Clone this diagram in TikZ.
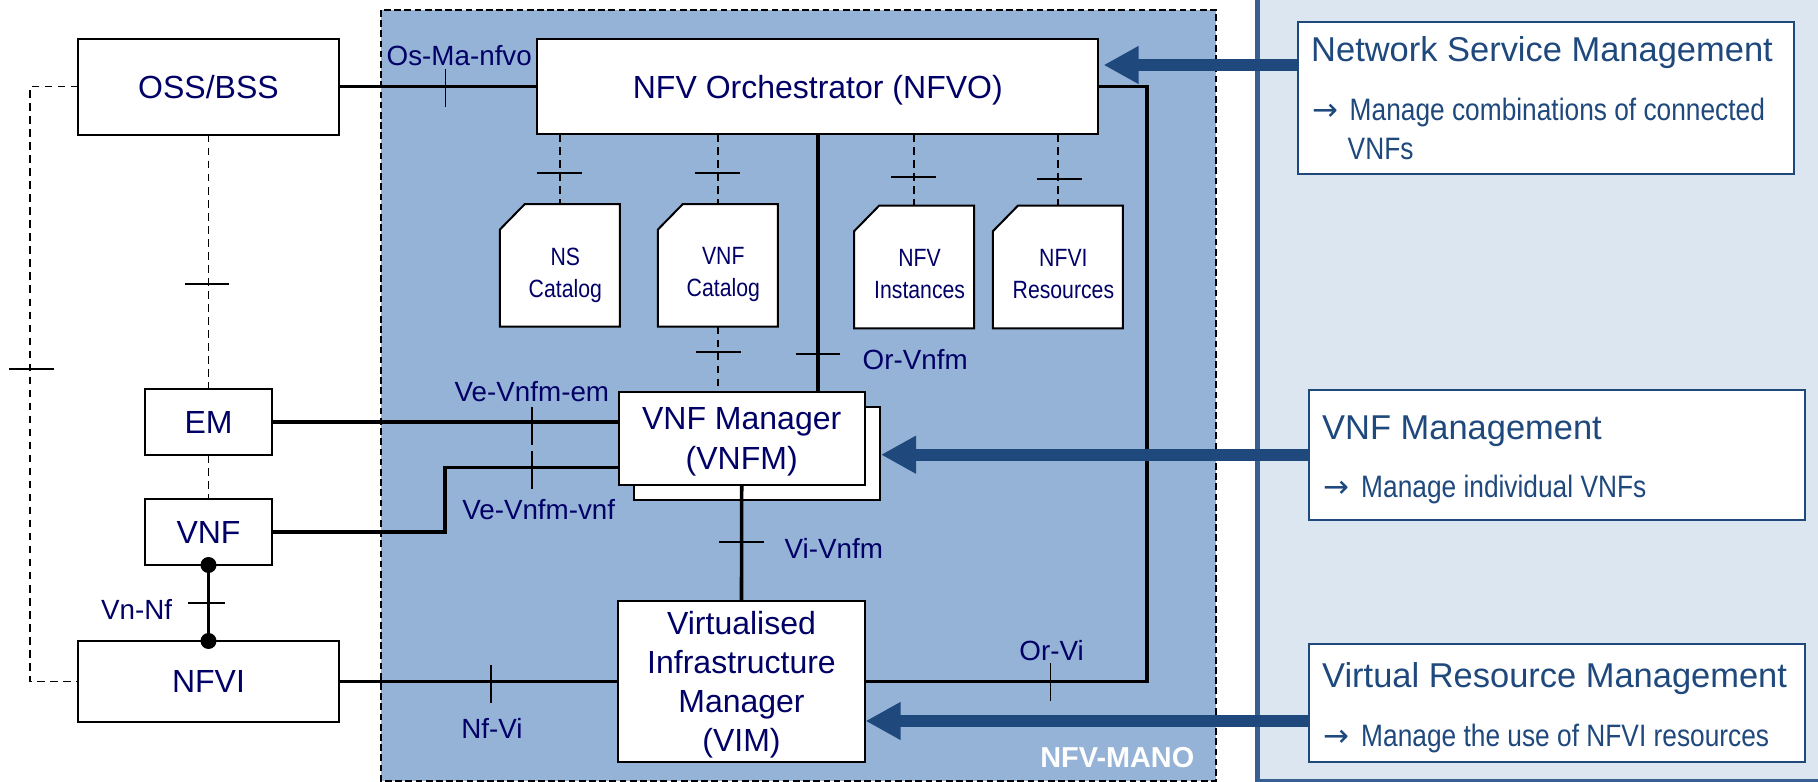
\documentclass[tikz,border=0pt]{standalone}
\usepackage{fontspec}
\setmainfont{Liberation Sans}
\newfontfamily\narrowfont[FakeStretch=0.85]{Liberation Sans}
\newfontfamily\arrowfont{DejaVu Sans}
\usetikzlibrary{arrows.meta}
\definecolor{manoblue}{HTML}{95B3D7}
\definecolor{panelblue}{HTML}{DCE6F1}
\definecolor{edgeblue}{HTML}{376092}
\definecolor{darkblue}{HTML}{1F497D}
\definecolor{navytext}{HTML}{000066}

\begin{document}
\begin{tikzpicture}[x=0.01cm,y=-0.01cm,
    box/.style={draw=black,line width=0.02cm,fill=white,text=navytext,align=center,inner sep=0pt,outer sep=0pt,
      text depth=0pt,font=\fontsize{9.1}{11.1}\selectfont},
    catalog/.style={inner sep=0pt,outer sep=0pt,minimum width=1.2cm,minimum height=1.225cm},
    catedge/.style={draw=black,line width=0.02cm,fill=white},
    cattext/.style={text=navytext,align=center,inner sep=0pt,xshift=0.055cm,yshift=-0.07cm,
      text depth=0pt,font=\narrowfont\fontsize{7.1}{9.1}\selectfont},
    mgmtbox/.style={draw=darkblue,line width=0.02cm,fill=white,inner sep=0pt,outer sep=0pt},
    mgmttitle/.style={anchor=base west,text=darkblue,inner sep=0pt,font=\fontsize{9.8}{11}\selectfont},
    mgmttext/.style={anchor=base west,text=darkblue,align=left,inner sep=0pt,font=\narrowfont\fontsize{8.8}{11}\selectfont},
    iflabel/.style={anchor=base west,text=navytext,inner sep=0pt,font=\fontsize{7.9}{9}\selectfont},
    refpoint/.style={line width=0.036cm},
    dashref/.style={line width=0.014cm,dash pattern=on 2.2pt off 1.5pt},
    tick/.style={line width=0.018cm},
    blockarrow/.style={darkblue,line width=0.12cm,-{Triangle[length=0.35cm,width=0.355cm]}}
  ]
  \useasboundingbox (0,0) rectangle (1818,782);

  % helpers
  \def\tickv#1#2{\draw[tick] (#1,#2) ++(0,-18.8) -- ++(0,37.6);}
  \def\tickh#1#2{\draw[tick] (#1,#2) ++(-22.4,0) -- ++(44.8,0);}
  \def\catshape#1{\draw[catedge] (#1.north west) ++(25,0) -- (#1.north east) -- (#1.south east)
    -- (#1.south west) -- ++(0,-97) -- cycle;}
  \def\arrowmark{\makebox[0.375cm][l]{\arrowfont →}}

  % backgrounds
  \draw[black,fill=manoblue,line width=0.014cm,dash pattern=on 1.9pt off 1pt] (381,10) rectangle (1216,781);
  \fill[panelblue] (1257,-5) rectangle (1825,781);
  \draw[edgeblue,line width=0.05cm] (1257,-5) -- (1257,781) -- (1825,781);
  \node[iflabel,text=white,font=\bfseries\fontsize{8.2}{9}\selectfont] (manolabel) at (1039.7,767) {NFV-MANO};

  % left column
  \node[box,minimum width=2.6cm,minimum height=0.96cm] (oss) at (208.5,86.7) {OSS/BSS};
  \node[box,minimum width=1.265cm,minimum height=0.66cm] (em) at (208.5,422) {EM};
  \node[box,minimum width=1.265cm,minimum height=0.66cm] (vnf) at (208.5,532) {VNF};
  \node[box,minimum width=2.6cm,minimum height=0.81cm] (nfvi) at (208.5,681.5) {NFVI};

  % MANO blocks
  \node[box,minimum width=5.605cm,minimum height=0.95cm] (nfvo) at (817.8,86.7) {NFV Orchestrator (NFVO)};
  \node[box,minimum width=2.46cm,minimum height=0.93cm] (vnfmback) at (757.2,453.5) {};
  \node[box,minimum width=2.46cm,minimum height=0.93cm] (vnfm) at (741.7,438.5) {VNF Manager\\(VNFM)};
  \node[box,minimum width=2.465cm,minimum height=1.61cm] (vim) at (741.5,681.5) {Virtualised\\Infrastructure\\Manager\\(VIM)};

  % catalogs
  \node[catalog] (nscat) at (559.8,265.4) {};
  \node[catalog] (vnfcat) at (717.8,265.4) {};
  \node[catalog] (nfvinst) at (914.1,267) {};
  \node[catalog,minimum width=1.3cm] (nfvires) at (1057.9,267) {};
  \catshape{nscat}
  \catshape{vnfcat}
  \catshape{nfvinst}
  \catshape{nfvires}
  \node[cattext] (nstext) at (nscat.center) {NS\\Catalog};
  \node[cattext] (vnftext) at (vnfcat.center) {VNF\\Catalog};
  \node[cattext] (insttext) at (nfvinst.center) {NFV\\Instances};
  \node[cattext] (restext) at (nfvires.center) {NFVI\\Resources};

  % management boxes
  \node[mgmtbox,minimum width=4.96cm,minimum height=1.517cm] (nsmgmt) at (1545.8,97.8) {};
  \node[mgmtbox,minimum width=4.955cm,minimum height=1.303cm] (vnfmgmt) at (1557,455.2) {};
  \node[mgmtbox,minimum width=4.955cm,minimum height=1.177cm] (vrmgmt) at (1557,703.2) {};
  \node[mgmttitle] (nstitle) at (1310.5,62) {Network Service Management};
  \node[mgmttext] (nsbody) at (1311.5,159.3) {\arrowmark Manage combinations of connected\\\hspace*{0.355cm}VNFs};
  \node[mgmttitle] (vnftitle) at (1321.5,439) {VNF Management};
  \node[mgmttext] (vnfbody) at (1323,497.3) {\arrowmark Manage individual VNFs};
  \node[mgmttitle] (vrtitle) at (1321.5,687.3) {Virtual Resource Management};
  \node[mgmttext] (vrbody) at (1323,746) {\arrowmark Manage the use of NFVI resources};

  % solid reference points
  \coordinate (vnfbend) at (445,467.3);
  \coordinate (orvibend) at (1147,0);
  \draw[refpoint] (oss.east) -- (nfvo.west);
  \draw[refpoint] (em.east) -- (em.east -| vnfm.west);
  \draw[refpoint] (vnf.east) -| (vnfbend) -- (vnfbend -| vnfm.west);
  \draw[refpoint] (nfvi.east) -- (vim.west);
  \draw[refpoint] (vnf.south) -- (nfvi.north);
  \draw[refpoint] (nfvo.south) -- (nfvo.south |- vnfm.north);
  \draw[refpoint] (vnfm.south) -- (vim.north);
  \draw[refpoint] (nfvo.east) -- (nfvo.east -| orvibend) -- (vim.east -| orvibend) -- (vim.east);
  \fill (vnf.south) circle (0.08cm);
  \fill (nfvi.north) circle (0.08cm);

  % dashed reference points
  \coordinate (ossbend) at (30,0);
  \draw[dashref] (oss.west) -- (oss.west -| ossbend) -- (nfvi.west -| ossbend) -- (nfvi.west);
  \draw[dashref] (oss.south) -- (em.north);
  \draw[dashref] (em.south) -- (vnf.north);
  \draw[dashref] (nscat.north |- nfvo.south) -- (nscat.north);
  \draw[dashref] (vnfcat.north |- nfvo.south) -- (vnfcat.north);
  \draw[dashref] (nfvinst.north |- nfvo.south) -- (nfvinst.north);
  \draw[dashref] (nfvires.north |- nfvo.south) -- (nfvires.north);
  \draw[dashref] (vnfcat.south) -- (vnfcat.south |- vnfm.north);

  % ticks
  \tickv{445.5}{87.9}
  \tickv{532}{425.7}
  \tickv{532}{470.2}
  \tickv{490.6}{683.9}
  \tickv{1050.4}{681.9}
  \tickh{31.3}{368.7}
  \tickh{207}{284.3}
  \tickh{559.8}{173.3}
  \tickh{717.4}{173.3}
  \tickh{913.8}{177}
  \tickh{1059.8}{178.7}
  \tickh{718.3}{351.7}
  \tickh{817.9}{353.7}
  \tickh{741.2}{542.3}
  \draw[tick] (206.5,603.3) ++(-18.6,0) -- ++(37.2,0);

  % interface names
  \node[iflabel] (osma) at (386,66) {Os-Ma-nfvo};
  \node[iflabel] (veem) at (454,401.7) {Ve-Vnfm-em};
  \node[iflabel] (vevnf) at (461.6,519) {Ve-Vnfm-vnf};
  \node[iflabel] (vnnf) at (100.4,619) {Vn-Nf};
  \node[iflabel] (nfvilabel) at (460.7,738) {Nf-Vi};
  \node[iflabel] (orvnfm) at (862,369.3) {Or-Vnfm};
  \node[iflabel] (vivnfm) at (784,558.7) {Vi-Vnfm};
  \node[iflabel] (orvi) at (1018.7,660.7) {Or-Vi};

  % block arrows
  \coordinate (nfvotip) at (1103.6,65);
  \coordinate (vnfmtip) at (881,454.7);
  \coordinate (vimtip) at (865.6,721);
  \draw[blockarrow] (nsmgmt.west |- nfvotip) -- (nfvotip);
  \draw[blockarrow] (vnfmgmt.west |- vnfmtip) -- (vnfmtip);
  \draw[blockarrow] (vrmgmt.west |- vimtip) -- (vimtip);
\end{tikzpicture}
\end{document}
